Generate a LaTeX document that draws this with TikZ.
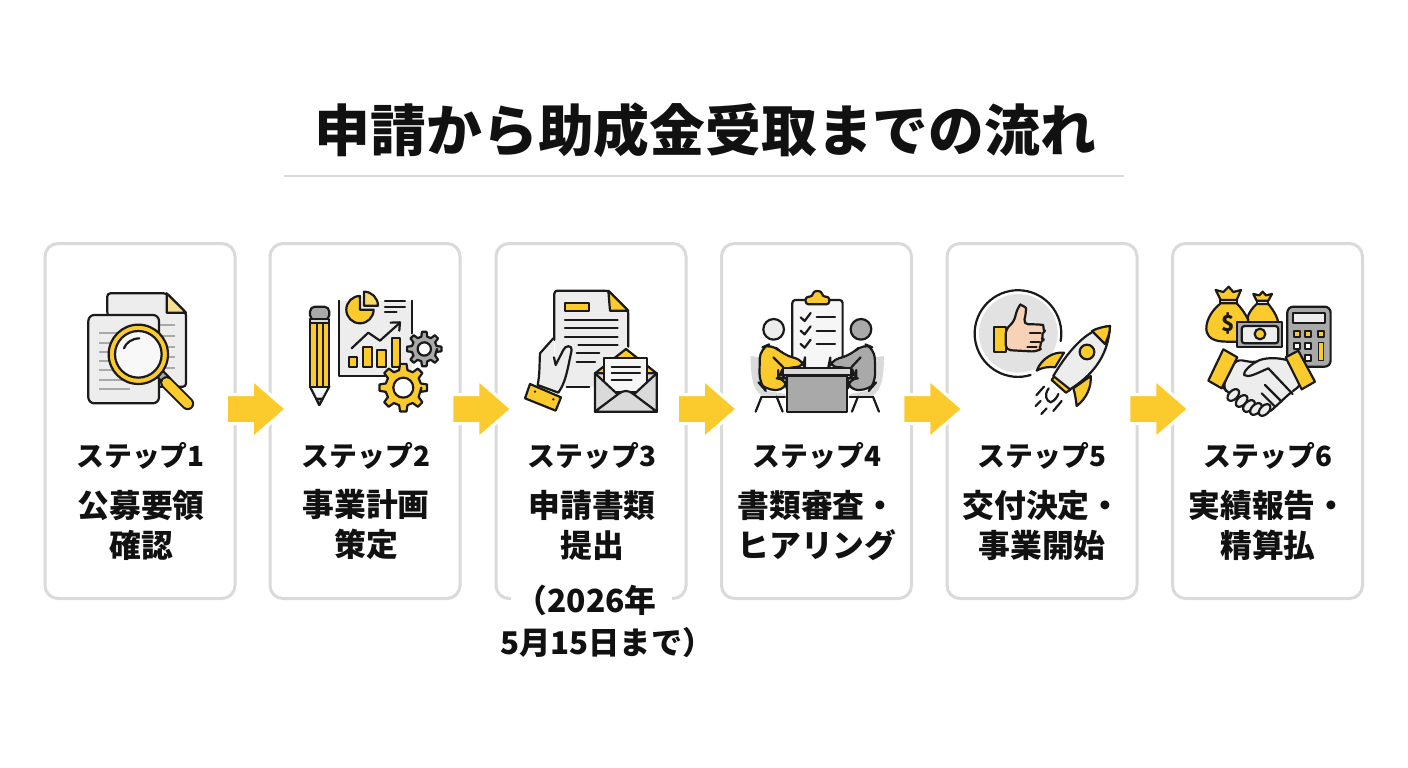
\documentclass[tikz,border=0pt]{standalone}
\usepackage{fontspec}
\setmainfont{Noto Sans CJK JP}
\usetikzlibrary{shapes.arrows,calc}
\definecolor{ink}{HTML}{1A1A1A}
\definecolor{txt}{HTML}{111111}
\definecolor{ylw}{HTML}{FBCB2E}
\definecolor{pale}{HTML}{F4E08E}
\definecolor{lgt}{HTML}{EDEDED}
\definecolor{mid}{HTML}{DADADA}
\definecolor{gry}{HTML}{A9A9A9}
\definecolor{skin}{HTML}{F7D2B6}
\definecolor{cardline}{HTML}{DADADA}
\tikzset{
  card/.style={draw=cardline,line width=3pt,rounded corners=13pt,fill=white,minimum height=355pt,inner sep=0pt},
  stepflow/.style={single arrow,fill=ylw,draw=white,line width=3pt,minimum height=60pt,
    single arrow head extend=15pt,single arrow head indent=0pt,single arrow tip angle=82,inner sep=0pt,
    execute at begin node={\rule{0pt}{26pt}}},
  steplab/.style={font=\bfseries\fontsize{27.8}{30}\selectfont,text=txt,inner sep=0pt},
  namelab/.style={font=\bfseries\fontsize{31.8}{40}\selectfont,text=txt,inner sep=0pt,align=center},
  ic/.style={draw=ink,line width=2.2pt,line join=round,line cap=round},
  grl/.style={draw=gry,line width=1.8pt},
}
\newcommand{\gearshape}[7]{%
  \begin{scope}[shift={(#1,#2)}]
    \pgfmathsetmacro{\gs}{360/#6}
    \pgfmathsetmacro{\ga}{\gs*0.30}
    \pgfmathsetmacro{\gb}{\gs*0.17}
    \draw[ic,fill=#7] (0:#4) \foreach \k in {1,...,#6} { -- ({\k*\gs-\ga}:#4) -- ({\k*\gs-\gb}:#3) -- ({\k*\gs+\gb}:#3) -- ({\k*\gs+\ga}:#4) } -- cycle;
    \draw[ic,fill=white] (0,0) circle (#5);
  \end{scope}}
\begin{document}
\begin{tikzpicture}[x=1pt,y=-1pt]
\useasboundingbox[fill=white] (0,0) rectangle (1408,768);

% title
\node[font=\bfseries\fontsize{55.8}{60}\selectfont,text=txt,inner sep=0pt] (title) at (705.5,130) {申請から助成金受取までの流れ};
\coordinate (ruleL) at (284,176);
\coordinate (ruleR) at (1124,176);
\draw[cardline,line width=2pt] (ruleL) -- (ruleR);

% cards
\node[card,minimum width=190pt] (c1) at (140,421) {};
\node[card,minimum width=190pt] (c2) at (365,421) {};
\node[card,minimum width=190pt] (c3) at (591,421) {};
\node[card,minimum width=190pt] (c4) at (816.5,421) {};
\node[card,minimum width=190pt] (c5) at (1042,421) {};
\node[card,minimum width=190pt] (c6) at (1267.5,421) {};

% arrows
\node[stepflow] (a1) at (248,409) {};
\node[stepflow] (a2) at (473.5,409) {};
\node[stepflow] (a3) at (699,409) {};
\node[stepflow] (a4) at (924.5,409) {};
\node[stepflow] (a5) at (1150.5,409) {};

% labels
\node[steplab] (s1) at (140.5,456) {ステップ1};
\node[steplab] (s2) at (366,456) {ステップ2};
\node[steplab] (s3) at (592,456) {ステップ3};
\node[steplab] (s4) at (817,456) {ステップ4};
\node[steplab] (s5) at (1042,456) {ステップ5};
\node[steplab] (s6) at (1268,456) {ステップ6};
\node[namelab] (n1) at (141,525) {公募要領\\確認};
\node[namelab] (n2) at (366,525) {事業計画\\策定};
\node[namelab] (n3) at (592,525) {申請書類\\提出};
\node[namelab] (n4) at (817,525) {書類審査・\\ヒアリング};
\node[namelab] (n5) at (1042,525) {交付決定・\\事業開始};
\node[namelab] (n6) at (1268,525) {実績報告・\\精算払};
\node[fill=white,minimum width=161pt,minimum height=30pt,inner sep=0pt] (d0) at (591.5,600) {};
\node[namelab] (d1) at (586,600) {（2026年};
\node[namelab,font=\bfseries\fontsize{31.3}{40}\selectfont] (d2) at (607,643) {5月15日まで）};

% ---- icon 1
\begin{scope}[shift={(40,240)},x=.3333pt,y=-.3333pt]
  \draw[ic,fill=lgt,rounded corners=3pt] (202,225) -- (202,160) -- (380,160) -- (438,218) -- (438,440) -- (300,440) -- cycle;
  \draw[ic,fill=pale] (380,160) -- (438,218) -- (380,218) -- cycle;
  \foreach \y in {256,288,320,352,384} \draw[grl] (355,\y) -- (405,\y);
  \draw[ic,fill=lgt,rounded corners=6pt] (145,225) rectangle (357,490);
  \foreach \y in {280,308,335,363,390,420} \draw[grl] (178,\y) -- (300,\y);
  \draw[grl] (178,448) -- (270,448);
  \draw[ic,fill=gry] (350,408) -- (368,392) -- (390,415) -- (372,432) -- cycle;
  \draw[draw=ink,line width=13pt,line cap=round] (380,428) -- (443,491);
  \draw[draw=ylw,line width=9pt,line cap=round] (380,428) -- (443,491);
  \draw[ic,fill=ylw] (295,343) circle (89);
  \draw[ic,fill=white!60!lgt] (295,343) circle (70);
  \draw[ic] (252,325) .. controls (258,308) and (275,296) .. (298,295);
\end{scope}

% ---- icon 2
\begin{scope}[shift={(40,240)},x=.3333pt,y=-.3333pt]
  \draw[ic,fill=gry,rounded corners=5pt] (810,240) -- (810,200) -- (868,200) -- (868,240) -- cycle;
  \draw[ic,fill=lgt!70!gry] (810,238) rectangle (868,250);
  \draw[ic,fill=white!90!gry] (810,440) -- (838,495) -- (868,440) -- cycle;
  \draw[ic,fill=gry] (829,476) -- (838,495) -- (848,476) -- cycle;
  \draw[ic,fill=ylw] (810,250) rectangle (868,440);
  \draw[ic] (830,250) -- (830,440) (848,250) -- (848,440);
  \fill[lgt] (897,182) rectangle (1115,408);
  \draw[ic] (897,182) -- (897,408) -- (1035,408);
  \draw[ic] (1115,182) -- (1115,280);
  \draw[ic,fill=ylw] (960,209) -- (960,168) arc (270:0:41) -- cycle;
  \draw[ic,fill=pale!60!ylw] (972,197) -- (972,155) arc (270:360:42) -- cycle;
  \draw[ic] (1035,183) -- (1095,183) (1035,200) -- (1095,200) (1035,217) -- (1070,217);
  \draw[ic] (935,325) -- (985,278) -- (1020,302) -- (1078,250);
  \draw[ic] (1052,248) -- (1080,247) -- (1078,272);
  \draw[ic,fill=ylw] (928,352) rectangle (952,382);
  \draw[ic,fill=ylw] (970,322) rectangle (995,382);
  \draw[ic,fill=ylw] (1012,330) rectangle (1037,382);
  \draw[ic,fill=ylw] (1055,295) rectangle (1080,382);
  \gearshape{1153}{327}{52}{38}{20}{8}{gry}
  \gearshape{1090}{443}{72}{54}{30}{8}{ylw}
\end{scope}

% ---- icon 3
\begin{scope}[shift={(490,270)},x=.3333pt,y=-.3333pt]
  \fill[lgt] (195,62) -- (355,62) -- (415,122) -- (415,350) -- (195,350) -- cycle;
  \draw[ic,rounded corners=3pt] (193,210) -- (193,62) -- (355,62) -- (415,122) -- (415,230);
  \draw[ic,fill=ylw] (355,62) -- (415,122) -- (360,122) -- cycle;
  \draw[ic,fill=ylw] (226,98) rectangle (297,124);
  \foreach \y in {150,175,200} \draw[ic] (225,\y) -- (383,\y);
  \draw[ic] (265,226) -- (383,226) (260,250) -- (328,250) (260,275) -- (315,275) (230,350) -- (298,350);
  \fill[lgt] (190,205) -- (150,250) -- (143,345) -- (205,368) -- (245,240) -- (195,285) -- cycle;
  \draw[ic,fill=lgt] (190,205) -- (150,250) .. controls (148,280) and (150,310) .. (143,345) -- (205,368) .. controls (228,335) and (232,300) .. (245,240) .. controls (247,225) and (225,225) .. (220,240) -- (197,285) -- (192,262);
  \draw[ic,fill=ylw] (120,342) -- (213,382) -- (197,422) -- (105,385) -- cycle;
  \fill[ink] (135,365) circle (4) (190,388) circle (4);
  \draw[ic,fill=mid] (315,310) rectangle (500,425);
  \draw[ic,fill=ylw] (315,310) -- (408,237) -- (500,310) -- cycle;
  \draw[ic,fill=lgt!50!white] (343,265) rectangle (472,365);
  \draw[ic] (365,290) -- (450,290) (365,310) -- (450,310) (365,330) -- (425,330);
  \draw[ic,fill=mid] (315,310) -- (385,375) -- (315,425) -- cycle;
  \draw[ic,fill=mid] (500,310) -- (430,375) -- (500,425) -- cycle;
  \draw[ic,fill=mid] (315,425) -- (385,372) .. controls (400,360) and (415,360) .. (430,372) -- (500,425) -- cycle;
\end{scope}

% ---- icon 4
\begin{scope}[shift={(490,270)},x=.3333pt,y=-.3333pt]
  \draw[ic,fill=lgt!50!white,rounded corners=3pt] (907,300) -- (907,90) -- (1058,90) -- (1058,300);
  \draw[ic,fill=ylw,rounded corners=3pt] (947,103) -- (947,80) -- (968,80) .. controls (970,60) and (995,60) .. (997,80) -- (1018,80) -- (1018,103) -- cycle;
  \foreach \y in {142,182,222} {
    \draw[ic] (932,\y) -- (944,\y+11) -- (962,\y-13);
    \draw[ic] (980,\y) -- (1035,\y);
  }
  % chairs
  \fill[mid] (782,258) -- (810,262) -- (815,360) -- (885,372) -- (885,380) -- (825,380) .. controls (795,370) and (782,340) .. (782,258) -- cycle;
  \draw[ic] (815,380) -- (885,380);
  \draw[ic] (815,380) -- (797,425) (860,380) -- (878,425);
  \fill[mid] (1182,258) -- (1154,262) -- (1149,360) -- (1079,372) -- (1079,380) -- (1139,380) .. controls (1169,370) and (1182,340) .. (1182,258) -- cycle;
  \draw[ic] (1149,380) -- (1079,380);
  \draw[ic] (1149,380) -- (1167,425) (1104,380) -- (1086,425);
  % people
  \draw[ic,fill=lgt] (851,178) circle (31);
  \draw[ic,fill=gry] (1113,178) circle (31);
  \draw[ic,fill=ylw,rounded corners=10pt] (890,360) -- (825,360) -- (808,340) -- (810,235) -- (845,220) -- (880,255) -- (945,272) -- (945,292) -- (880,292) -- (865,325) -- (890,325) -- cycle;
  \draw[ic] (850,262) -- (880,292) (865,300) -- (865,325) -- (890,325);
  \draw[ic,fill=gry,rounded corners=10pt] (1074,360) -- (1139,360) -- (1156,340) -- (1154,235) -- (1119,220) -- (1084,255) -- (1019,272) -- (1015,292) -- (1084,292) -- (1099,325) -- (1074,325) -- cycle;
  \draw[ic] (1112,262) -- (1084,292) (1099,300) -- (1099,325) -- (1074,325);
  % table
  \draw[ic,fill=gry] (892,317) rectangle (1072,425);
  \draw[ic,fill=lgt!70!gry] (880,295) rectangle (1083,316);
\end{scope}

% ---- icon 5
\begin{scope}[shift={(940,270)},x=.3333pt,y=-.3333pt]
  \fill[mid!60!lgt] (235,190) circle (118);
  \draw[ic] (272,315) arc (73:370:130);
  \draw[ic,fill=ylw] (163,170) rectangle (197,247);
  \draw[ic,fill=skin,rounded corners=5pt] (197,178) -- (222,155) -- (232,115) .. controls (240,105) and (258,110) .. (258,130) -- (250,163) -- (295,163) .. controls (310,165) and (310,185) .. (302,190) .. controls (306,200) and (304,212) .. (298,215) .. controls (300,225) and (298,240) .. (290,245) -- (197,240) -- cycle;
  \draw[ic] (270,190) -- (302,190) (272,215) -- (298,215) (262,232) -- (290,232);
  \draw[ic,fill=ylw] (372,248) .. controls (340,245) and (305,265) .. (290,302) .. controls (310,290) and (335,290) .. (345,292) -- cycle;
  \draw[ic,fill=ylw] (452,318) .. controls (455,350) and (440,385) .. (410,408) .. controls (408,390) and (405,370) .. (400,355) -- cycle;
  \draw[ic,fill=ylw] (345,316) -- (392,358) -- (378,368) -- (335,330) -- cycle;
  \draw[ic,fill=lgt] (510,168) .. controls (450,175) and (395,225) .. (340,318) -- (390,358) .. controls (450,320) and (505,265) .. (510,168) -- cycle;
  \draw[ic,fill=ylw] (510,168) .. controls (490,170) and (470,175) .. (456,183) -- (495,222) .. controls (503,205) and (510,190) .. (510,168) -- cycle;
  \draw[ic,fill=ylw] (441,246) circle (22);
  \draw[ic] (326,355) .. controls (312,375) and (318,392) .. (332,397) .. controls (345,392) and (352,380) .. (355,372);
  \draw[ic] (289,376) -- (312,350) (287,408) -- (302,393) (304,432) -- (320,415) (340,423) -- (365,393);
\end{scope}

% ---- icon 6
\begin{scope}[shift={(940,270)},x=.3333pt,y=-.3333pt]
  % calculator
  \draw[ic,fill=gry,rounded corners=6pt] (1042,110) rectangle (1172,290);
  \draw[ic,fill=lgt] (1060,130) rectangle (1155,160);
  \foreach \x in {1070,1105,1143} \draw[ic,fill=ylw] (\x-9,183) rectangle (\x+9,201);
  \draw[ic,fill=white] (1061,219) rectangle (1079,237);
  \draw[ic,fill=white] (1096,219) rectangle (1114,237);
  \draw[ic,fill=ylw,line width=1pt] (1135,218) rectangle (1152,272);
  \draw[ic,fill=white] (1096,254) rectangle (1114,272);
  % small bag
  \draw[ic,fill=ylw] (950,102) .. controls (925,125) and (915,150) .. (925,175) -- (1015,175) .. controls (1020,150) and (1000,120) .. (985,102) -- cycle;
  \draw[ic,fill=lgt] (950,92) rectangle (985,102);
  \draw[ic,fill=ylw] (950,92) -- (940,72) -- (958,76) -- (968,65) -- (978,76) -- (996,72) -- (985,92) -- cycle;
  % big bag
  \draw[ic,fill=ylw] (842,100) .. controls (810,125) and (795,160) .. (800,185) .. controls (805,205) and (825,215) .. (860,215) -- (895,215) -- (925,150) .. controls (915,130) and (905,115) .. (890,100) -- cycle;
  \draw[ic,fill=lgt] (840,90) rectangle (892,100);
  \draw[ic,fill=ylw] (842,90) -- (827,60) -- (850,66) -- (866,50) -- (880,66) -- (903,60) -- (890,90) -- cycle;
  \node[font=\bfseries\fontsize{22}{24}\selectfont,text=ink,inner sep=0pt] (dollar) at (865,160) {\$};
  % bill
  \draw[ic,fill=gry] (892,155) rectangle (1027,232);
  \draw[ic,fill=lgt,rounded corners=3pt] (905,168) rectangle (1015,220);
  \draw[ic,fill=ylw] (960,192) circle (16);
  % hands
  \draw[ic,fill=lgt,rounded corners=6pt] (888,268) -- (945,278) -- (985,265) -- (1040,268) -- (1085,345) -- (1055,365) -- (985,430) -- (950,425) -- (860,365) -- (848,350) -- cycle;
  \draw[ic,fill=lgt] (1040,270) .. controls (1010,262) and (970,262) .. (950,275) .. controls (930,285) and (910,305) .. (912,315) .. controls (925,325) and (950,310) .. (985,295) -- (1058,372);
  \foreach \p/\r in {880/375,905/393,927/408,948/417,974/420} {
    \draw[ic,fill=lgt,rotate around={45:(\p,\r)}] (\p,\r) ellipse (21 and 13);
  }
  \draw[ic] (975,345) -- (1025,395) (965,370) -- (1005,410);
  \draw[ic,fill=ylw] (850,238) -- (892,262) -- (845,355) -- (805,332) -- cycle;
  \draw[ic,fill=ylw] (1075,242) -- (1125,335) -- (1085,358) -- (1037,262) -- cycle;
\end{scope}
\end{tikzpicture}
\end{document}
